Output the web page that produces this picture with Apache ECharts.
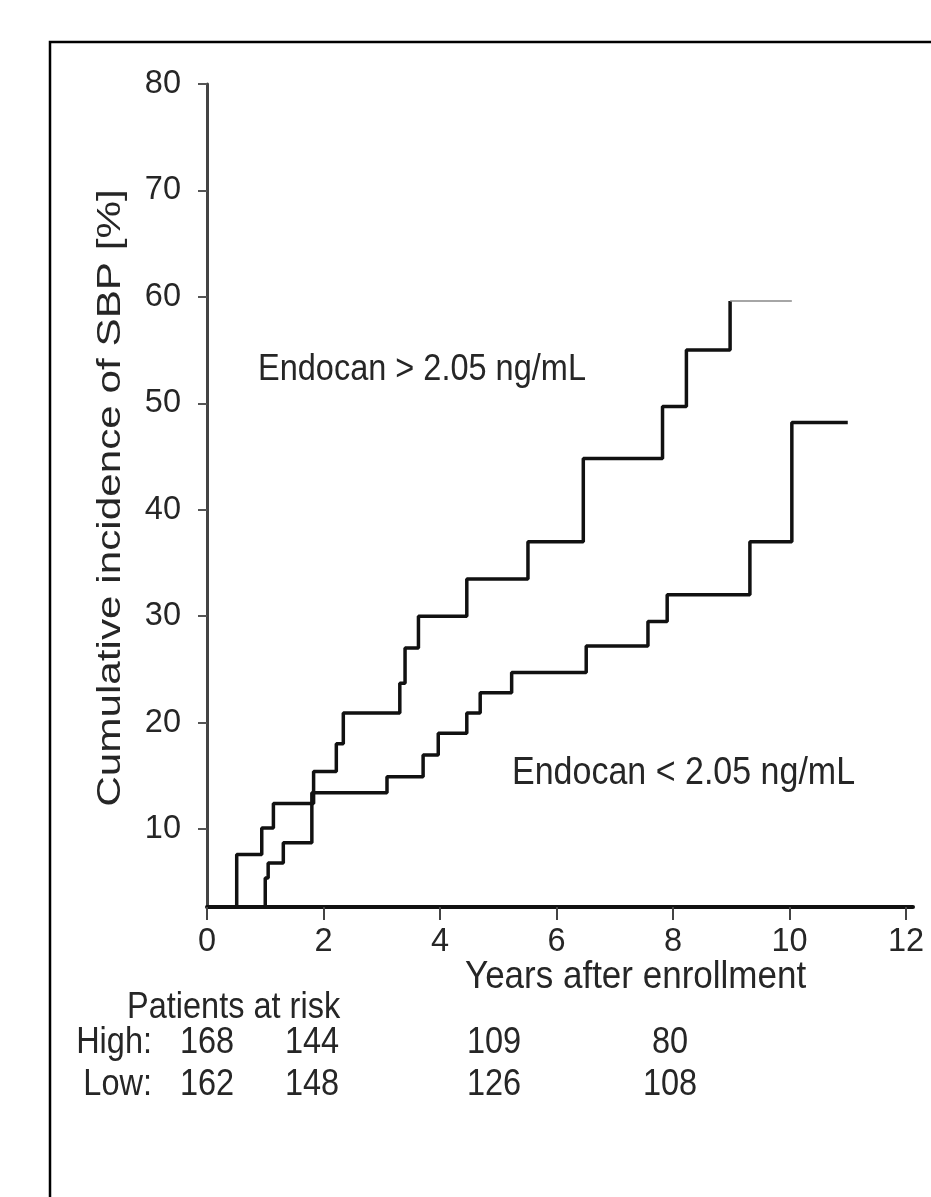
<!DOCTYPE html>
<html>
<head>
<meta charset="utf-8">
<script src="https://cdn.jsdelivr.net/npm/echarts@6/dist/echarts.min.js"></script>
<style>
  html, body { margin: 0; padding: 0; background: #fff; }
  #chart { width: 931px; height: 1197px; }
</style>
</head>
<body>
<div id="chart"></div>
<script>
// tick values
const xTicks = [0, 2, 4, 6, 8, 10, 12]
const yTicks = [10, 20, 30, 40, 50, 60, 70, 80]

// [years, cumulative incidence %] after each step
const highSteps = [[0, 0], [0.51, 7.6], [0.94, 10.1], [1.14, 12.4], [1.83, 15.4], [2.22, 18.0], [2.34, 20.9],
  [3.31, 23.7], [3.40, 27.0], [3.63, 30.0], [4.46, 33.5], [5.51, 37.0], [6.46, 44.8], [7.82, 49.7],
  [8.23, 55.0], [8.98, 59.6]]
const highTail = [[8.98, 59.6], [10.04, 59.6]]
const lowSteps = [[0, 0], [1.00, 5.4], [1.05, 6.8], [1.31, 8.7], [1.80, 13.4], [3.09, 14.9], [3.71, 16.95],
  [3.97, 19.0], [4.46, 20.9], [4.69, 22.8], [5.23, 24.7], [6.51, 27.2], [7.57, 29.5], [7.90, 32.0],
  [9.32, 37.0], [10.04, 48.2], [11.0, 48.2]]

// patients at risk
const riskGroups = ['High:', 'Low:']
const riskHigh = [168, 144, 109, 80]
const riskLow = [162, 148, 126, 108]

const font = '"Liberation Sans", Arial, sans-serif'
const fs = 32.5
const stretch = 1.12 // the scanned figure is a bit taller than wide
const textColor = '#262626'
const riskCols = [207, 312, 494, 670]
const riskRows = [1043, 1085]

const chart = echarts.init(document.getElementById('chart'))

function label (text, x, y, align, size) {
  return {
    type: 'text', x: x, y: y, scaleY: stretch,
    style: {text: text, font: `${size || fs}px ${font}`, fill: textColor, align: align || 'left', verticalAlign: 'middle'}
  }
}

const riskTexts = []
;[riskHigh, riskLow].forEach((row, r) => {
  riskTexts.push(label(riskGroups[r], 152, riskRows[r], 'right'))
  row.forEach((v, i) => {
    riskTexts.push(label(String(v), riskCols[i], riskRows[r], 'center'))
  })
})

chart.setOption({
  backgroundColor: '#fff',
  animation: false,
  grid: {left: 207, top: 84, width: 706, bottom: 290},
  xAxis: {
    type: 'value',
    min: 0,
    max: 12.12,
    axisLine: {lineStyle: {color: '#111', width: 4}},
    axisTick: {customValues: xTicks, length: 13, lineStyle: {color: '#444', width: 2}},
    axisLabel: {customValues: xTicks, margin: 19, fontSize: fs, fontFamily: font, color: textColor},
    splitLine: {show: false}
  },
  yAxis: {
    type: 'value',
    min: 2.67,
    max: 80,
    axisLine: {show: true, lineStyle: {color: '#444', width: 3}},
    axisTick: {show: true, customValues: yTicks, length: 9, lineStyle: {color: '#555', width: 2}},
    axisLabel: {customValues: yTicks, margin: 26, fontSize: fs, fontFamily: font, color: textColor},
    splitLine: {show: false}
  },
  series: [
    {
      type: 'line', step: 'end', data: highSteps, symbol: 'none',
      lineStyle: {color: '#111', width: 3.5}
    },
    {
      type: 'line', data: highTail, symbol: 'none',
      lineStyle: {color: '#888', width: 1.5}
    },
    {
      type: 'line', step: 'end', data: lowSteps, symbol: 'none',
      lineStyle: {color: '#111', width: 3.5}
    }
  ],
  graphic: [
    {
      type: 'rect', shape: {x: 50, y: 42, width: 1000, height: 1300},
      style: {fill: 'none', stroke: '#000', lineWidth: 2.5}
    },
    {
      type: 'text', x: 111, y: 498, rotation: Math.PI / 2, scaleX: 1.3,
      style: {text: 'Cumulative incidence of SBP [%]', font: `${fs}px ${font}`, fill: textColor, align: 'center', verticalAlign: 'middle'}
    },
    label('Endocan > 2.05 ng/mL', 258, 370),
    label('Endocan < 2.05 ng/mL', 512, 773, 'left', 34),
    label('Years after enrollment', 465, 977, 'left', 35),
    label('Patients at risk', 127, 1008),
    ...riskTexts
  ]
})
</script>
</body>
</html>
